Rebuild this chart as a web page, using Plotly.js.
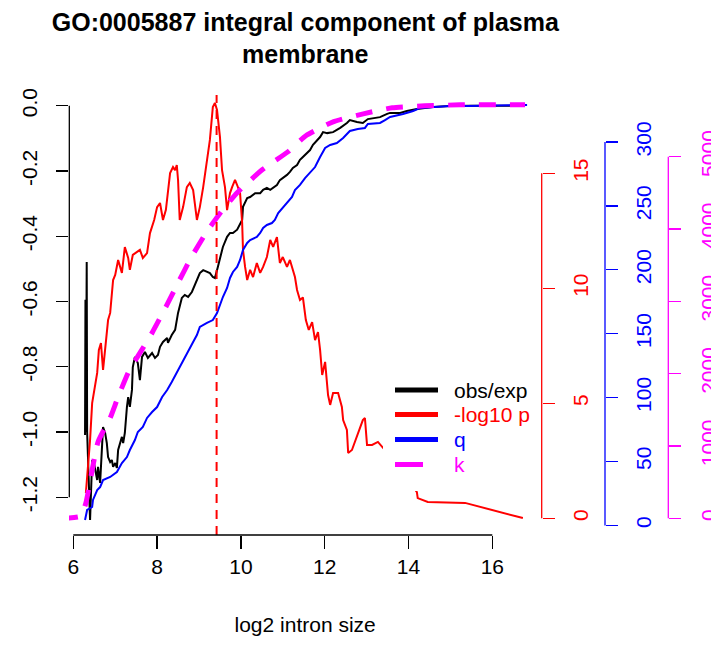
<!DOCTYPE html>
<html><head><meta charset="utf-8">
<script src="https://cdn.plot.ly/plotly-3.0.1.min.js"></script>
<style>html,body{margin:0;padding:0;background:#fff}</style>
</head><body><div id="chart" style="width:711px;height:648px"></div>
<script>
// ---------- text ----------
const titleText = "GO:0005887 integral component of plasma<br>membrane";
const xLabel = "log2 intron size";
const legendLabels = ["obs/exp", "-log10 p", "q", "k"];
const seriesColors = ["black", "red", "blue", "magenta"];

// ---------- ticks ----------
const xTicks = [6, 8, 10, 12, 14, 16];
const obsTicks = [0, -0.2, -0.4, -0.6, -0.8, -1.0, -1.2];
const obsTickText = ["0.0", "-0.2", "-0.4", "-0.6", "-0.8", "-1.0", "-1.2"];
const pTicks = [0, 5, 10, 15];
const qTicks = [0, 50, 100, 150, 200, 250, 300];
const kTicks = [0, 1000, 2000, 3000, 4000, 5000];

// ---------- data ----------
const peakX = 9.42;

const obsX = [6.28, 6.29, 6.30, 6.32, 6.33, 6.36, 6.40, 6.45, 6.50, 6.57, 6.59, 6.64, 6.68, 6.71, 6.76, 6.80, 6.83, 6.88, 6.92, 6.95,
  7.00, 7.04, 7.07, 7.11, 7.16, 7.19, 7.23, 7.28, 7.31, 7.35, 7.40, 7.42, 7.47, 7.54, 7.59, 7.64, 7.71, 7.78, 7.88, 7.95,
  8.02, 8.07, 8.14, 8.24, 8.26, 8.35, 8.43, 8.50, 8.59, 8.66, 8.74, 8.83, 8.90, 8.95, 9.02, 9.10, 9.19, 9.26, 9.33, 9.38,
  9.45, 9.50, 9.57, 9.67, 9.74, 9.81, 9.91, 10.03, 10.05, 10.15, 10.22, 10.34, 10.46, 10.53, 10.62, 10.70, 10.77, 10.86, 10.93, 11.00,
  11.10, 11.17, 11.24, 11.34, 11.41, 11.48, 11.58, 11.65, 11.72, 11.82, 11.89, 11.96, 12.06, 12.20, 12.37, 12.53, 12.60, 12.77, 12.91, 13.03,
  13.15, 13.32, 13.49, 13.56, 13.80, 13.96, 14.20, 14.58, 14.99, 15.50, 16.78];
const obsY = [-1.009, -0.595, -1.0, -0.479, -1.0, -1.12, -1.27, -1.086, -1.10, -1.147, -1.107, -1.156, -1.046, -0.985, -1.003, -1.034, -1.077, -1.092, -1.086, -1.107,
  -1.095, -1.110, -1.055, -1.034, -1.015, -1.034, -1.003, -0.923, -0.893, -0.923, -0.871, -0.801, -0.770, -0.789, -0.841, -0.770, -0.755, -0.773, -0.758, -0.773,
  -0.764, -0.739, -0.724, -0.712, -0.727, -0.703, -0.687, -0.635, -0.589, -0.580, -0.586, -0.571, -0.549, -0.536, -0.513, -0.504, -0.510, -0.513, -0.525, -0.528,
  -0.494, -0.464, -0.433, -0.402, -0.390, -0.390, -0.380, -0.350, -0.310, -0.283, -0.280, -0.268, -0.268, -0.258, -0.252, -0.258, -0.252, -0.243, -0.228, -0.222,
  -0.212, -0.203, -0.191, -0.182, -0.166, -0.157, -0.145, -0.136, -0.120, -0.105, -0.096, -0.081, -0.084, -0.081, -0.068, -0.053, -0.044, -0.050, -0.053, -0.041,
  -0.038, -0.035, -0.025, -0.022, -0.022, -0.016, -0.010, -0.004, -0.001, 0.0, 0.0];

const pX = [6.30, 6.35, 6.40, 6.45, 6.52, 6.57, 6.61, 6.66, 6.71, 6.76, 6.83, 6.88, 6.95, 7.00, 7.07, 7.16, 7.23, 7.31, 7.35, 7.42,
  7.59, 7.66, 7.76, 7.83, 7.93, 8.00, 8.07, 8.14, 8.21, 8.31, 8.38, 8.43, 8.47, 8.50, 8.54, 8.62, 8.71, 8.78, 8.86, 8.95,
  9.02, 9.10, 9.19, 9.26, 9.33, 9.38, 9.43, 9.45, 9.50, 9.55, 9.62, 9.67, 9.74, 9.79, 9.86, 9.91, 9.98, 10.03, 10.05, 10.10,
  10.15, 10.22, 10.29, 10.38, 10.46, 10.53, 10.62, 10.70, 10.77, 10.86, 10.93, 11.00, 11.10, 11.17, 11.29, 11.34, 11.41, 11.48, 11.55, 11.62,
  11.70, 11.77, 11.84, 11.89, 11.94, 12.01, 12.08, 12.13, 12.20, 12.32, 12.41, 12.44, 12.53, 12.56, 12.65, 12.91, 12.96, 13.01, 13.13, 13.27,
  13.80, 14.20, 14.22, 14.46, 15.35, 16.73];
const pY = [1.10, 2.10, 3.40, 5.01, 5.80, 6.32, 7.32, 7.62, 6.45, 7.45, 8.62, 8.93, 10.36, 10.58, 11.23, 10.67, 11.79, 11.32, 10.80, 11.45,
  11.67, 11.32, 11.53, 12.40, 12.97, 13.53, 13.71, 12.97, 13.41, 15.01, 15.27, 15.14, 15.36, 14.71, 12.97, 13.53, 14.40, 14.58, 14.27, 12.97,
  13.53, 14.40, 15.58, 16.45, 17.88, 18.06, 17.75, 17.45, 16.58, 15.14, 14.40, 13.40, 14.14, 14.40, 14.71, 14.49, 14.14, 12.84, 11.67, 10.93,
  10.36, 10.80, 10.49, 11.10, 10.67, 10.93, 11.36, 12.10, 11.80, 12.23, 11.10, 11.36, 10.93, 11.23, 10.49, 9.93, 9.49, 9.60, 8.62, 8.19,
  8.53, 7.75, 8.10, 7.32, 6.23, 6.80, 5.36, 4.93, 5.45, 5.45, 4.84, 4.27, 3.84, 2.84, 2.97, 4.27, 4.36, 3.19, 3.19, 3.32,
  2.20, 1.14, 0.88, 0.71, 0.67, 0.01];

const qX = [6.28, 6.33, 6.45, 6.47, 6.57, 6.64, 6.71, 6.88, 7.04, 7.16, 7.28, 7.35, 7.47, 7.54, 7.66, 7.76, 7.88, 8.00, 8.12, 8.24,
  8.35, 8.47, 8.54, 8.66, 8.78, 8.86, 8.95, 9.02, 9.19, 9.33, 9.43, 9.50, 9.57, 9.67, 9.74, 9.81, 9.91, 9.98, 10.05, 10.15,
  10.22, 10.38, 10.46, 10.53, 10.62, 10.74, 10.81, 10.89, 11.00, 11.10, 11.22, 11.29, 11.41, 11.53, 11.65, 11.77, 11.89, 12.01, 12.13, 12.29,
  12.44, 12.60, 12.79, 12.96, 13.03, 13.32, 13.44, 13.56, 13.87, 14.11, 14.27, 14.58, 14.99, 15.40, 16.83];
const qY = [4.2, 12.1, 14.4, 19.9, 27.7, 30.0, 35.5, 37.9, 41.8, 48.8, 53.5, 59.0, 66.8, 73.1, 77.0, 84.1, 88.7, 92.6, 100.5, 105.9,
  112.2, 119.3, 123.9, 131.0, 138.8, 143.5, 149.0, 155.3, 158.4, 160.7, 166.2, 172.5, 178.7, 185.8, 193.6, 198.3, 202.2, 207.7, 215.5, 221.0,
  223.3, 225.7, 228.8, 232.7, 235.1, 236.6, 239.0, 244.4, 248.4, 252.3, 257.0, 262.4, 266.4, 271.8, 275.7, 280.4, 288.3, 295.3, 297.7, 299.2,
  303.1, 308.6, 310.2, 311.0, 314.1, 314.9, 317.2, 319.6, 321.9, 324.3, 326.6, 327.4, 328.2, 328.2, 329.0];

const kX = [5.70, 6.18, 6.30, 6.59, 6.88, 7.07, 7.33, 7.62, 7.88, 8.21, 8.50, 8.81, 9.17, 9.53, 9.91, 10.50, 11.12, 11.55, 12.20, 12.92,
  13.61, 14.39, 15.23, 16.78];
const kY = [0, 30, 212, 1055, 1388, 1679, 2039, 2315, 2564, 2924, 3256, 3602, 3948, 4238, 4501, 4816, 5067, 5289, 5482, 5593,
  5676, 5703, 5717, 5717];

// ---------- layout geometry (pixels) ----------
const W = 711, H = 648, ML = 69, MR = 6, MT = 95, MB = 113;
const PW = W - ML - MR, PH = H - MT - MB;
const px2x = p => (p - ML) / PW;          // pixel x -> paper x
const py2y = p => (H - MB - p) / PH;      // pixel y -> paper y
const FONT = "Liberation Sans, Arial, Helvetica, sans-serif";
const FS = 21;
const PLOT_RIGHT = 541.3;                  // right edge of the data region (px)

const posP = px2x(541.7), posQ = px2x(605), posK = px2x(668.3);

function yAxisCommon(color, ticks, texts, standoff) {
  const a = {
    tickmode: "array", tickvals: ticks, ticks: "outside", ticklen: 12, tickwidth: 1.3,
    tickcolor: color, tickangle: -90, showgrid: false, zeroline: false, showline: false,
    ticklabelstandoff: standoff,
    tickfont: {family: FONT, size: FS, color: color}, fixedrange: true
  };
  if (texts) a.ticktext = texts;
  return a;
}

const traces = [
  {x: obsX, y: obsY, type: "scatter", mode: "lines", yaxis: "y", line: {color: seriesColors[0], width: 2}, showlegend: false, name: legendLabels[0]},
  {x: qX, y: qY, type: "scatter", mode: "lines", yaxis: "y3", line: {color: seriesColors[2], width: 2}, showlegend: false, name: legendLabels[2]},
  {x: kX, y: kY, type: "scatter", mode: "lines", yaxis: "y4", line: {color: seriesColors[3], width: 5, dash: "17px,14px", shape: "spline", smoothing: 0.5}, showlegend: false, name: legendLabels[3]},
  {x: pX, y: pY, type: "scatter", mode: "lines", yaxis: "y2", line: {color: seriesColors[1], width: 2}, showlegend: false, name: legendLabels[1]}
];

const shapes = [
  // vertical dashed line at peak
  {type: "line", xref: "x", yref: "paper", x0: peakX, x1: peakX, y0: 0, y1: 1, line: {color: "red", width: 2, dash: "9px,7px"}},
  // legend background
  {type: "rect", xref: "paper", yref: "paper", layer: "above", x0: px2x(383), x1: px2x(539), y0: py2y(491), y1: py2y(363), fillcolor: "white", line: {width: 0}},
  // axis lines (R style: span first to last tick)
  {type: "line", xref: "x", yref: "paper", x0: xTicks[0], x1: xTicks[xTicks.length - 1], y0: 0, y1: 0, line: {color: "black", width: 1.3}},
  {type: "line", xref: "paper", yref: "y", x0: 0.0005, x1: 0.0005, y0: obsTicks[obsTicks.length - 1], y1: obsTicks[0], line: {color: "black", width: 1.3}},
  {type: "line", xref: "paper", yref: "y2", layer: "above", x0: posP, x1: posP, y0: pTicks[0], y1: pTicks[pTicks.length - 1], line: {color: "red", width: 1.3}},
  {type: "line", xref: "paper", yref: "y3", x0: posQ, x1: posQ, y0: qTicks[0], y1: qTicks[qTicks.length - 1], line: {color: "blue", width: 1.3}},
  {type: "line", xref: "paper", yref: "y4", x0: posK, x1: posK, y0: kTicks[0], y1: kTicks[kTicks.length - 1], line: {color: "magenta", width: 1.3}}
];

// legend sample lines + labels
const legRows = [390, 414.5, 439.5, 464.5];
const annotations = [];
legendLabels.forEach((lab, i) => {
  const isK = i === 3;
  shapes.push({type: "line", xref: "paper", yref: "paper", layer: "above",
    x0: px2x(395), x1: px2x(isK ? 423 : 438), y0: py2y(legRows[i]), y1: py2y(legRows[i]),
    line: {color: seriesColors[i], width: 5}});
  annotations.push({xref: "paper", yref: "paper", x: px2x(452), y: py2y(legRows[i]), xanchor: "left", yanchor: "middle",
    text: lab, showarrow: false, font: {family: FONT, size: FS, color: seriesColors[i]}});
});

const layout = {
  width: W, height: H, margin: {l: ML, r: MR, t: MT, b: MB, pad: 0},
  paper_bgcolor: "white", plot_bgcolor: "white", showlegend: false,
  font: {family: FONT, size: FS, color: "black"},
  title: {text: titleText, font: {family: FONT, size: 25, color: "black", weight: "bold"},
    xref: "paper", x: px2x(305.3), xanchor: "center", yref: "container", y: 1 - 30.5 / H, yanchor: "top"},
  xaxis: {domain: [0, px2x(PLOT_RIGHT)], range: [5.8974, 17.1694], tickmode: "array", tickvals: xTicks, ticks: "outside", ticklen: 13, tickwidth: 1.3,
    tickcolor: "black", showgrid: false, zeroline: false, showline: false, fixedrange: true,
    tickfont: {family: FONT, size: FS, color: "black"},
    title: {text: xLabel, font: {family: FONT, size: FS, color: "black"}, standoff: 40}},
  yaxis: Object.assign(yAxisCommon("black", obsTicks, obsTickText, 11), {range: [-1.3157, 0.0328], side: "left"}),
  yaxis2: Object.assign(yAxisCommon("red", pTicks, null, 8), {range: [-0.726, 18.404], overlaying: "y", anchor: "free", position: posP, side: "right"}),
  yaxis3: Object.assign(yAxisCommon("blue", qTicks, null, 8), {range: [-7.51, 336.78], overlaying: "y", anchor: "free", position: posQ, side: "right"}),
  yaxis4: Object.assign(yAxisCommon("magenta", kTicks, null, 9), {range: [-230.9, 5853.2], overlaying: "y", anchor: "free", position: posK, side: "right"}),
  shapes: shapes, annotations: annotations
};

Plotly.newPlot("chart", traces, layout, {staticPlot: true, displayModeBar: false});
</script></body></html>
